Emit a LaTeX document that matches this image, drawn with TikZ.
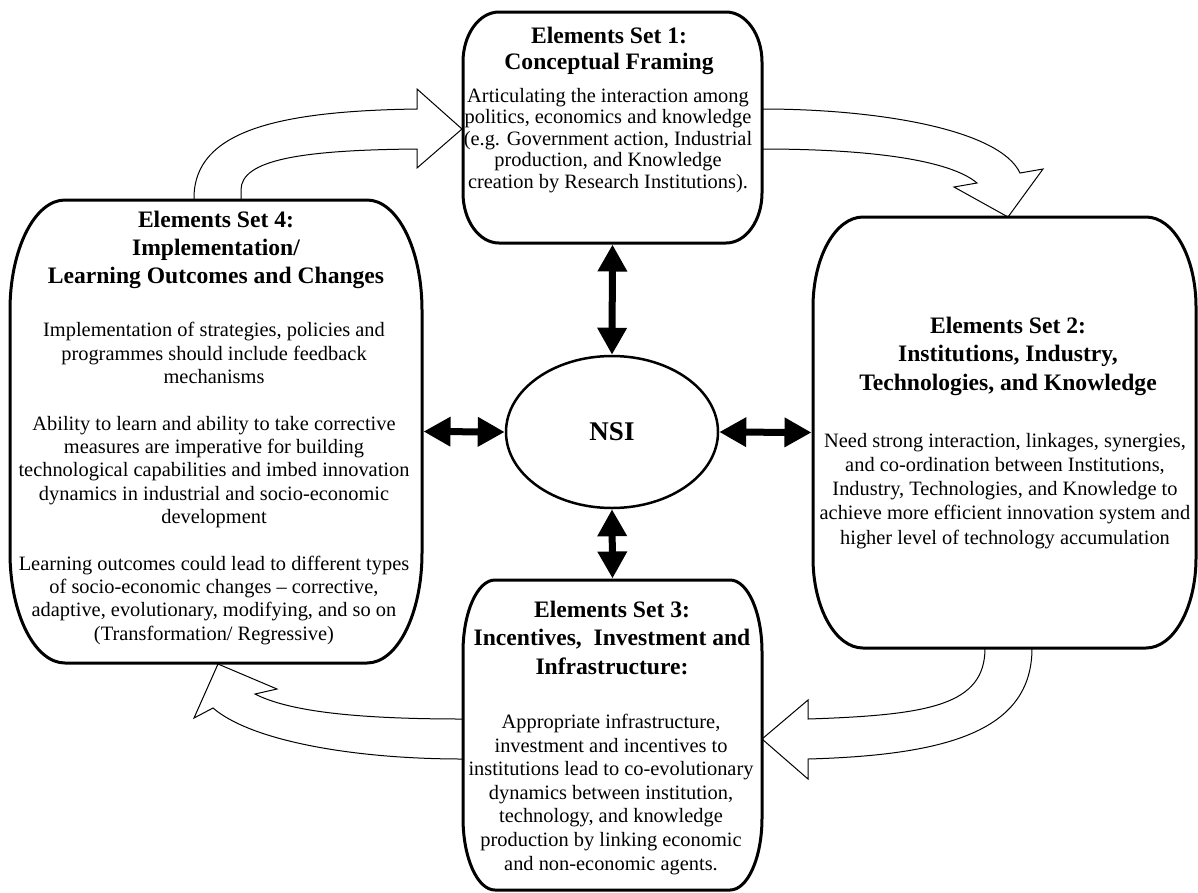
\documentclass[tikz,border=0pt]{standalone}
\usepackage{fontspec}
\setmainfont{Liberation Serif}
\usetikzlibrary{arrows.meta,shapes.geometric}
\tikzset{
  boxline/.style={line width=3pt},
  blockarrow/.style={draw,line width=1pt,fill=white,line join=miter},
  dbl/.style={line width=7pt,{Triangle[length=27pt,width=28pt]}-{Triangle[length=27pt,width=28pt]}},
  ttl/.style={font=\bfseries\fontsize{23.6}{#1}\selectfont,align=center,anchor=base,inner sep=0pt},
  bdy/.style={font=\fontsize{20.4}{#1}\selectfont,align=center,anchor=base,inner sep=0pt},
}
% x1,y1,x2,y2,rx,ry,name
\newcommand\eboxdraw[7]{%
  \draw[boxline,fill=white] ({#1+#5},#2) -- ({#3-#5},#2)
    .. controls ({#3-0.448*#5},#2) and (#3,{#2+0.448*#6}) .. (#3,{#2+#6})
    -- (#3,{#4-#6})
    .. controls (#3,{#4-0.448*#6}) and ({#3-0.448*#5},#4) .. ({#3-#5},#4)
    -- ({#1+#5},#4)
    .. controls ({#1+0.448*#5},#4) and (#1,{#4-0.448*#6}) .. (#1,{#4-#6})
    -- (#1,{#2+#6})
    .. controls (#1,{#2+0.448*#6}) and ({#1+0.448*#5},#2) .. ({#1+#5},#2) -- cycle;
  \path node[inner sep=0pt,outer sep=1.5pt,minimum width={(#3-#1)*1pt},minimum height={(#4-#2)*1pt}] (#7) at ({(#1+#3)/2},{(#2+#4)/2}) {};}
\begin{document}
\begin{tikzpicture}[x=1pt,y=-1pt]
\useasboundingbox (0,0) rectangle (1198,892);

% curved block arrows
\draw[blockarrow] (194,205) -- (194,198) .. controls (194,130) and (280,111) .. (417,109)
  -- (417,89) -- (462,129) -- (417,168) -- (417,149)
  .. controls (300,150) and (241,160) .. (241,190) -- (241,205) -- cycle;
\draw[blockarrow] (757,109) -- (762,109) .. controls (880,109) and (1000,130) .. (1020,173)
  -- (1043,169) -- (1008,217) -- (954,187) -- (977,183)
  .. controls (950,160) and (870,149) .. (762,149) -- (757,149) -- cycle;
\draw[blockarrow] (985,643) -- (985,648) .. controls (985,705) and (930,715) .. (808,719)
  -- (808,700) -- (762,739) -- (808,779) -- (808,759)
  .. controls (950,755) and (1032,730) .. (1032,648) -- (1032,643) -- cycle;
\draw[blockarrow] (468,719) -- (463,719) .. controls (360,719) and (290,712) .. (255,694)
  -- (277,689) -- (218,664) -- (194,718) -- (213,708)
  .. controls (250,740) and (350,759) .. (463,759) -- (468,759) -- cycle;

% boxes
\eboxdraw{463}{12}{762}{243}{36}{50}{b1}
\eboxdraw{813}{217}{1196}{648}{50}{90}{b2}
\eboxdraw{463}{580}{762}{890}{32}{72}{b3}
\eboxdraw{10}{200}{422}{663}{55}{110}{b4}

% centre
\node[ellipse,draw,line width=2.5pt,minimum width=212pt,minimum height=152pt,inner sep=0pt,
  font=\bfseries\fontsize{27}{30}\selectfont] (nsi) at (612,432) {NSI};

\draw[dbl] (b1.south) -- (nsi.north);
\draw[dbl] (nsi.south) -- (b3.north);
\draw[dbl] (b4.east) -- (nsi.west);
\draw[dbl] (nsi.east) -- (b2.west);

% texts (anchor=base is the baseline of the last line)
\node[ttl=25.7pt] (t1) at (609,69) {Elements Set 1:\\Conceptual Framing};
\node[bdy=21.5pt] (x1) at (608,188) {Articulating the interaction among\\politics, economics and knowledge\\(e.g. Government action, Industrial\\production, and Knowledge\\creation by Research Institutions).};

\node[ttl=28.3pt] (t2) at (1008,390) {Elements Set 2:\\Institutions, Industry,\\Technologies, and Knowledge};
\node[bdy=24.2pt] (x2) at (1005,544) {Need strong interaction, linkages, synergies,\\and co-ordination between Institutions,\\Industry, Technologies, and Knowledge to\\achieve more efficient innovation system and\\higher level of technology accumulation};

\node[ttl=28.3pt] (t3) at (612,674) {Elements Set 3:\\Incentives,\ \ Investment and\\Infrastructure:};
\node[bdy=23.6pt] (x3) at (611,870) {Appropriate infrastructure,\\investment and incentives to\\institutions lead to co-evolutionary\\dynamics between institution,\\technology, and knowledge\\production by linking economic\\and non-economic agents.};

\node[ttl=27.7pt] (t4) at (216,283) {Elements Set 4:\\Implementation/\\Learning Outcomes and Changes};
\node[bdy=23.2pt] (x4) at (214,640) {Implementation of strategies, policies and\\programmes should include feedback\\mechanisms\\[24pt]
Ability to learn and ability to take corrective\\measures are imperative for building\\technological capabilities and imbed innovation\\dynamics in industrial and socio-economic\\development\\[24pt]
Learning outcomes could lead to different types\\of socio-economic changes -- corrective,\\adaptive, evolutionary, modifying, and so on\\(Transformation/ Regressive)};
\end{tikzpicture}
\end{document}
